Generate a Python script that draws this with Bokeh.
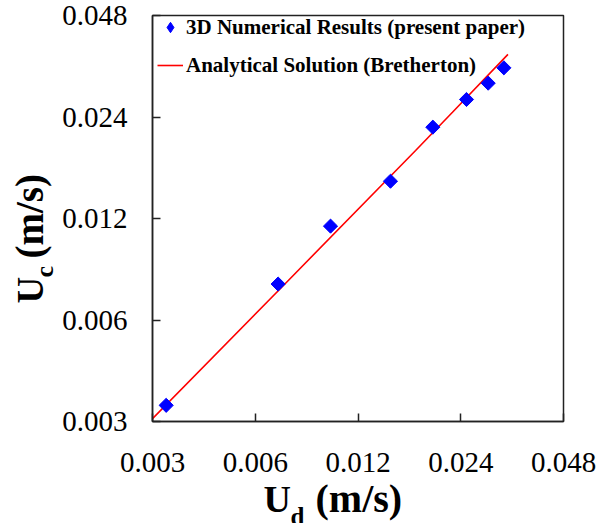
import math
from bokeh.plotting import figure
from bokeh.layouts import column, row
from bokeh.models import Range1d, FixedTicker, Legend, LegendItem
from bokeh.core.properties import value
from bokeh.embed import file_html
from bokeh.resources import INLINE

# Data
UD_NUM = [0.00329, 0.00700, 0.00997, 0.01494, 0.01988, 0.02495, 0.02888, 0.03210]
UC_NUM = [0.00335, 0.00767, 0.01139, 0.01548, 0.02239, 0.02705, 0.03024, 0.03358]

UD_BRETH = [0.0030, 0.0075, 0.0177, 0.0227, 0.0330]
UC_BRETH = [0.00306, 0.00786, 0.0191, 0.0248, 0.0368]

TICKS = [0.003, 0.006, 0.012, 0.024, 0.048]
TICK_LABELS = ["0.003", "0.006", "0.012", "0.024", "0.048"]

SERIES_LABELS = ["3D Numerical Results (present paper)", "Analytical Solution (Bretherton)"]

SERIF = "Liberation Serif"

# ---------------- main plot ----------------
FRAME_H = 406
p = figure(width=553, height=484, x_axis_type="log", y_axis_type="log",
           x_range=Range1d(0.003, 0.048), y_range=Range1d(0.003, 0.048),
           output_backend="svg", toolbar_location=None,
           min_border_left=94, min_border_top=15, min_border_right=48, min_border_bottom=63)

p.grid.visible = False
p.outline_line_color = "#222222"
p.outline_line_width = 1.5
p.background_fill_color = "white"
p.border_fill_color = "white"

overrides = {t: l for t, l in zip(TICKS, TICK_LABELS)}
for ax in (p.xaxis[0], p.yaxis[0]):
    ax.ticker = FixedTicker(ticks=TICKS, minor_ticks=[])
    ax.major_label_overrides = overrides
    ax.major_tick_in = 8
    ax.major_tick_out = 0
    ax.minor_tick_line_color = None
    ax.axis_line_color = "#222222"
    ax.axis_line_width = 1.5
    ax.major_tick_line_color = "#222222"
    ax.major_tick_line_width = 1.5
    ax.major_label_text_font = SERIF
    ax.major_label_text_font_size = "29px"
    ax.major_label_text_color = "black"
    ax.axis_label = None
p.xaxis.major_label_standoff = 31
p.yaxis.major_label_standoff = 25

line_r = p.line(UD_BRETH, UC_BRETH, line_color="red", line_width=1.6)
# legend proxy: an unrotated diamond hidden under the first data point
proxy = p.scatter(UD_NUM[:1], UC_NUM[:1], marker="diamond", size=9,
                  fill_color="blue", line_color="blue")
sc_r = p.scatter(UD_NUM, UC_NUM, marker="square", angle=math.pi / 4, size=10,
                 fill_color="blue", line_color="blue")

legend = Legend(items=[
    LegendItem(label=SERIES_LABELS[0], renderers=[proxy]),
    LegendItem(label=SERIES_LABELS[1], renderers=[line_r]),
], location=(5, 341))
legend.label_text_font = SERIF
legend.label_text_font_style = "bold"
legend.label_text_font_size = "21px"
legend.label_text_color = "black"
legend.glyph_width = 26
legend.glyph_height = 30
legend.label_height = 20
legend.label_standoff = 3
legend.spacing = 8
legend.margin = 0
legend.padding = 0
legend.border_line_color = None
legend.background_fill_alpha = 0
p.add_layout(legend)

# ---------------- axis title panels ----------------
def text_panel(w, h, yr):
    f = figure(width=w, height=h, x_range=Range1d(0, w), y_range=Range1d(0, yr),
               output_backend="svg", toolbar_location=None,
               x_axis_location=None, y_axis_location=None, min_border=0)
    f.grid.visible = False
    f.outline_line_color = None
    f.background_fill_color = "white"
    f.border_fill_color = "white"
    return f

def put(f, x, y, txt, size, angle=0.0):
    f.text(x=[x], y=[y], text=[txt], angle=angle, text_font=value(SERIF),
           text_font_style="bold", text_font_size=size, text_color="black",
           text_align="left", text_baseline="middle")

# left title panel: its frame is aligned with the main frame (height FRAME_H)
yfig = text_panel(58, 484, FRAME_H)
put(yfig, 29.5, 118, "U", "37px", math.pi / 2)
put(yfig, 44, 144, "c", "26px", math.pi / 2)
put(yfig, 29, 163, "(m/s)", "39px", math.pi / 2)

xfig = text_panel(611, 39, 39)
put(xfig, 263, 25, "U", "38px")
put(xfig, 290, 7.5, "d", "25px")
put(xfig, 315, 25.5, "(m/s)", "40px")

layout = column(row(yfig, p), xfig)

open("out.html", "w").write(file_html(layout, INLINE))
